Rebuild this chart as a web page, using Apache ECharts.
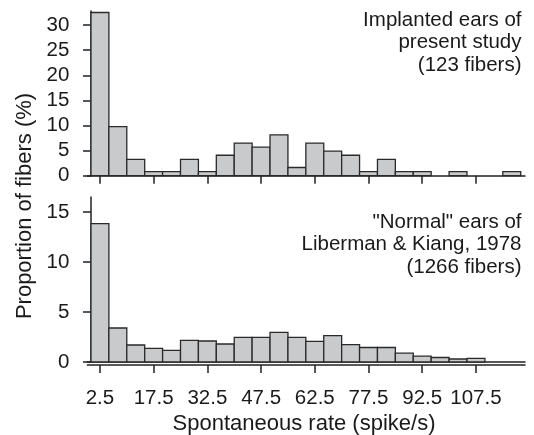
<!DOCTYPE html>
<html>
<head>
<meta charset="utf-8">
<script src="https://cdn.jsdelivr.net/npm/echarts@6/dist/echarts.min.js"></script>
<style>html,body{margin:0;padding:0;background:#fff;}#c{width:534px;height:435px;}</style>
</head>
<body>
<div id="c"></div>
<script>
var binStarts = [0,5,10,15,20,25,30,35,40,45,50,55,60,65,70,75,80,85,90,95,100,105,110,115];
var binWidth = 5;
var implantedValues = [32.5, 9.76, 3.25, 0.81, 0.81, 3.25, 0.81, 4.07, 6.5, 5.69, 8.13, 1.63, 6.5, 4.88, 4.07, 0.81, 3.25, 0.81, 0.81, 0, 0.81, 0, 0, 0.81];
var normalValues = [13.83, 3.4, 1.7, 1.37, 1.17, 2.17, 2.1, 1.8, 2.47, 2.47, 2.97, 2.47, 2.07, 2.63, 1.73, 1.45, 1.45, 0.88, 0.58, 0.45, 0.3, 0.37];
var xTickValues = [2.5, 17.5, 32.5, 47.5, 62.5, 77.5, 92.5, 107.5];
var yTicksTop = [0, 5, 10, 15, 20, 25, 30];
var yTicksBottom = [0, 5, 10, 15];

var FONT = 'Liberation Sans, Arial, sans-serif';
var TXT = '#1a1a1a';
var LINE = '#222';
var TICKFONT = 20.5;

function toData(vals) {
  var out = [];
  for (var i = 0; i < vals.length; i++) {
    if (vals[i] > 0) out.push([binStarts[i], binStarts[i] + binWidth, vals[i]]);
  }
  return out;
}

function renderBar(params, api) {
  var p0 = api.coord([api.value(0), 0]);
  var p1 = api.coord([api.value(1), api.value(2)]);
  return {
    type: 'rect',
    shape: { x: p0[0], y: p1[1], width: p1[0] - p0[0], height: p0[1] - p1[1] },
    style: { fill: '#c9cacc', stroke: '#2a2a2a', lineWidth: 1.3 }
  };
}

var xCommon = {
  type: 'value', min: -1, max: 121.2, position: 'bottom',
  splitLine: { show: false }
};

var chart = echarts.init(document.getElementById('c'), null, { renderer: 'canvas' });
chart.setOption({
  animation: false,
  backgroundColor: '#fff',
  grid: [
    { left: 87.4, width: 437.6, top: 11, height: 164.7 },
    { left: 87.4, width: 437.6, top: 197, height: 165 }
  ],
  xAxis: [
    Object.assign({}, xCommon, {
      gridIndex: 0,
      axisLine: { show: true, onZero: false, lineStyle: { color: LINE, width: 1.5 } },
      axisTick: { show: true, length: 8, customValues: xTickValues, lineStyle: { color: LINE, width: 1.5 } },
      axisLabel: { show: false }
    }),
    Object.assign({}, xCommon, {
      gridIndex: 1,
      axisLine: { show: true, onZero: false, lineStyle: { color: LINE, width: 1.5 } },
      axisTick: { show: false },
      axisLabel: { show: false }
    }),
    Object.assign({}, xCommon, {
      gridIndex: 1,
      offset: 3,
      axisLine: { show: true, onZero: false, lineStyle: { color: LINE, width: 1.5 } },
      axisTick: { show: true, length: 8, customValues: xTickValues, lineStyle: { color: LINE, width: 1.5 } },
      axisLabel: { show: true, customValues: xTickValues, margin: 23, fontSize: TICKFONT, color: TXT, fontFamily: FONT,
        formatter: function (v) { return String(v); } }
    })
  ],
  yAxis: [
    {
      type: 'value', gridIndex: 0, min: 0, max: 32.8,
      splitLine: { show: false },
      axisLine: { show: true, lineStyle: { color: LINE, width: 1.5 } },
      axisTick: { show: true, length: 8, customValues: yTicksTop, lineStyle: { color: LINE, width: 1.5 } },
      axisLabel: { customValues: yTicksTop, margin: 18, fontSize: TICKFONT, color: TXT, fontFamily: FONT }
    },
    {
      type: 'value', gridIndex: 1, min: 0, max: 16.5,
      splitLine: { show: false },
      axisLine: { show: true, lineStyle: { color: LINE, width: 1.5 } },
      axisTick: { show: true, length: 8, customValues: yTicksBottom, lineStyle: { color: LINE, width: 1.5 } },
      axisLabel: { customValues: yTicksBottom, margin: 18, fontSize: TICKFONT, color: TXT, fontFamily: FONT }
    }
  ],
  series: [
    { type: 'custom', xAxisIndex: 0, yAxisIndex: 0, renderItem: renderBar, data: toData(implantedValues), clip: false },
    { type: 'custom', xAxisIndex: 1, yAxisIndex: 1, renderItem: renderBar, data: toData(normalValues), clip: false }
  ],
  graphic: [
    { type: 'text', x: 521.5, y: 42.4,
      style: { text: 'Implanted ears of\npresent study\n(123 fibers)', align: 'right', verticalAlign: 'middle',
        font: '20.5px ' + FONT, lineHeight: 22.5, fill: TXT } },
    { type: 'text', x: 521.5, y: 244.8,
      style: { text: '"Normal" ears of\nLiberman & Kiang, 1978\n(1266 fibers)', align: 'right', verticalAlign: 'middle',
        font: '20.5px ' + FONT, lineHeight: 22.3, fill: TXT } },
    { type: 'text', x: 25, y: 206, rotation: Math.PI / 2,
      style: { text: 'Proportion of fibers (%)', align: 'center', verticalAlign: 'middle',
        font: '22px ' + FONT, fill: TXT } },
    { type: 'text', x: 304, y: 424,
      style: { text: 'Spontaneous rate (spike/s)', align: 'center', verticalAlign: 'middle',
        font: '22px ' + FONT, fill: TXT } }
  ]
});
</script>
</body>
</html>
